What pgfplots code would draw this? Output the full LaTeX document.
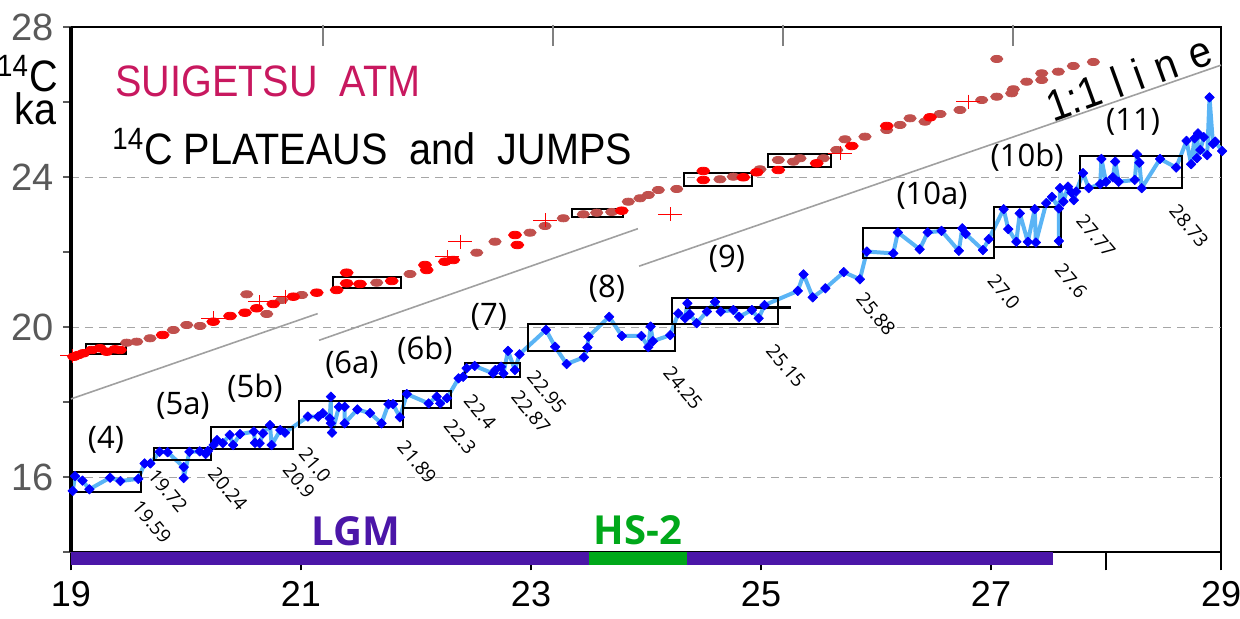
\documentclass[border=0pt]{standalone}
\usepackage{fontspec}
\setmainfont{Liberation Sans}
\newfontfamily\arialn[FakeStretch=0.9]{Liberation Sans}
\newfontfamily\seg{Open Sans}
\usepackage{pgfplots}
\pgfplotsset{compat=1.18}
\definecolor{dullred}{RGB}{192,80,77}
\definecolor{lgm}{RGB}{75,22,168}
\definecolor{hsgreen}{RGB}{0,168,26}
\definecolor{suig}{RGB}{200,24,95}
\definecolor{lblue}{RGB}{90,180,245}
\definecolor{tickgray}{RGB}{89,89,89}
\definecolor{gridgray}{RGB}{166,166,166}
\definecolor{linegray}{RGB}{160,160,160}
\begin{document}
\begin{tikzpicture}
\useasboundingbox (0,0) rectangle (620pt,309.5pt);
\begin{axis}[
 at={(35.5pt,33.35pt)}, anchor=south west,
 scale only axis, width=575pt, height=262.5pt,
 xmin=19, xmax=29, ymin=14, ymax=28,
 clip=false,
 axis line style={line width=1pt},
 xtick={19,21,23,25,27,28,29}, xticklabels={19,21,23,25,27,,29},
 xtick pos=bottom, tick align=outside,
 major tick length=9pt,
 xtick style={black, line width=1pt},
 ytick={14,16,...,28}, yticklabels={,16,,20,,24,,28},
 ytick pos=left, ytick style={draw=none},
 xticklabel style={font=\fontsize{18}{18}\selectfont, text=black, yshift=-2pt},
 yticklabel style={font=\fontsize{19}{19}\selectfont, text=tickgray, xshift=4pt},
 /pgf/number format/assume math mode=true,
]
% grid
\pgfplotsinvokeforeach{16,20,24}{\draw[gridgray, line width=0.6pt, dash pattern=on 4pt off 3pt] (axis cs:19,#1) -- (axis cs:29,#1);}
% y ticks
\pgfplotsinvokeforeach{14,16,18,20,22,24,26,28}{\draw[tickgray, line width=0.8pt] (axis cs:19,#1) -- ([xshift=-4pt]axis cs:19,#1);}
% top ticks
\pgfplotsinvokeforeach{21.19,23.19,25.19,27.19}{\draw[gray, line width=0.8pt] ([yshift=1.2pt]axis cs:#1,28) -- ([yshift=-9.5pt]axis cs:#1,28);}
\draw[line width=1.6pt] (axis cs:19,14) -- (axis cs:19,28);

% 1:1 line segments
\addplot[linegray, line width=0.8pt, forget plot] coordinates {(19,18.09) (21.145,20.365)};
\addplot[linegray, line width=0.8pt, forget plot] coordinates {(21.157,19.653) (23.93,22.63)};
\addplot[linegray, line width=0.8pt, forget plot] coordinates {(23.94,21.63) (29,26.99)};

% Suigetsu dull red
\addplot[only marks, mark=*, mark size=1.8pt, mark options={draw=dullred, fill=dullred, xscale=1.7}] coordinates {
(19.484,19.589) (19.571,19.616) (19.687,19.707) (19.890,19.928) (20.006,20.061) (20.122,20.035)
(20.528,20.880) (20.702,20.355) (20.832,20.728) (21.006,20.861) (21.658,21.189) (21.948,21.421)
(22.528,21.989) (22.687,22.283) (22.991,22.523) (23.122,22.701) (23.281,22.907) (23.455,23.013)
(23.571,23.056) (23.702,23.075) (23.846,23.349) (23.948,23.440) (24.020,23.528) (24.107,23.661)
(24.267,23.688) (24.643,23.947) (24.759,24.016) (24.991,24.213) (25.150,24.461) (25.281,24.416)
(25.339,24.507) (25.542,24.507) (25.658,24.728) (25.730,25.013) (25.904,25.083) (26.093,25.261)
(26.209,25.395) (26.296,25.573) (26.426,25.483) (26.557,25.688) (26.730,25.795) (26.919,26.061)
(27.050,26.149) (27.180,26.240) (27.194,26.347) (27.310,26.549) (27.441,26.595) (27.441,26.773)
(27.585,26.816) (27.716,26.968) (27.890,27.075) (27.050,27.155)
};
% Suigetsu bright red
\addplot[only marks, mark=*, mark size=1.9pt, mark options={draw=red, fill=red, xscale=1.7}] coordinates {
(19.026,19.216) (19.063,19.261) (19.107,19.307) (19.180,19.395) (19.252,19.440) (19.310,19.349)
(19.383,19.413) (19.426,19.395) (19.797,19.795) (20.237,20.149) (20.383,20.301) (20.513,20.389)
(20.615,20.507) (20.759,20.621) (20.933,20.816) (21.137,20.923) (21.310,20.995) (21.397,21.456)
(21.397,21.173) (21.513,21.155) (21.789,21.235) (22.078,21.661) (22.093,21.528) (22.252,21.749)
(22.324,21.795) (22.861,22.461) (22.881,22.195) (23.789,23.109) (24.498,24.168) (24.498,23.928)
(24.846,24.000) (24.963,24.133) (25.150,24.195) (25.484,24.373) (25.789,24.835) (26.093,25.368)
(26.470,25.600)
};
% crosses
\addplot[only marks, mark=+, mark size=3.5pt, mark options={draw=red, xscale=1.7, line width=0.5pt}] coordinates {
(19.009,19.235) (20.237,20.240) (20.643,20.675) (20.861,20.816) (22.270,21.875) (22.383,22.283)
(23.122,22.861) (24.209,23.021) (25.687,24.640) (26.803,26.016)
};

% blue series
\addplot[lblue, line width=2pt, line join=round, mark=square*, mark size=1.7pt, mark options={draw=blue, fill=blue, line width=0.3pt, rotate=45}] coordinates {
(19.015,15.64) (19.035,16.03) (19.10,15.91) (19.16,15.68) (19.34,15.99) (19.43,15.90) (19.585,15.96)
(19.64,16.37) (19.69,16.37) (19.77,16.68) (19.84,16.67) (19.98,16.27) (19.98,15.98) (20.03,16.68)
(20.12,16.69) (20.17,16.62) (20.19,16.70) (20.24,16.86) (20.27,16.99) (20.32,16.91) (20.38,17.13)
(20.41,16.86) (20.47,17.15) (20.59,17.22) (20.60,16.92) (20.64,16.91) (20.67,17.17) (20.73,17.39)
(20.745,16.86) (20.82,17.26) (20.86,17.19) (21.06,17.62) (21.15,17.62) (21.19,17.71) (21.25,17.57)
(21.26,18.15) (21.26,17.44) (21.27,17.19) (21.33,17.88) (21.38,17.88) (21.38,17.44) (21.49,17.81)
(21.60,17.71) (21.70,17.44) (21.76,17.95) (21.80,17.95) (21.86,17.60) (21.92,18.22) (22.11,17.97)
(22.18,18.15) (22.21,17.97) (22.27,18.11) (22.37,18.64) (22.41,18.68) (22.44,18.91) (22.51,18.97)
(22.67,18.77) (22.69,18.86) (22.74,18.95) (22.76,18.77) (22.80,19.37) (22.86,18.86) (22.90,19.28)
(23.13,19.93) (23.21,19.48) (23.31,19.02) (23.46,19.20) (23.49,19.46) (23.50,19.75) (23.68,20.28)
(23.79,19.77) (23.96,19.77) (24.02,19.47) (24.04,20.02) (24.06,19.63) (24.21,19.79) (24.28,20.37)
(24.34,20.24) (24.36,20.64) (24.38,20.35) (24.44,20.11) (24.53,20.42) (24.60,20.68) (24.65,20.42)
(24.76,20.46) (24.81,20.28) (24.92,20.46) (24.98,20.24) (25.03,20.59) (25.32,20.97) (25.37,21.41)
(25.45,20.80) (25.56,21.04) (25.72,21.47) (25.86,21.28) (25.92,22.02) (26.15,21.97) (26.19,22.53)
(26.38,22.08) (26.45,22.53) (26.57,22.57) (26.72,22.04) (26.75,22.64) (26.78,22.49) (26.93,22.06)
(26.98,22.35) (27.11,23.15) (27.15,22.62) (27.22,22.28) (27.25,23.04) (27.32,22.28) (27.38,23.15)
(27.39,22.26) (27.48,23.31) (27.53,23.48) (27.59,23.17) (27.59,22.30) (27.60,23.71) (27.63,23.35)
(27.67,23.75) (27.70,23.59) (27.72,23.39) (27.74,23.62) (27.80,24.11) (27.85,23.71) (27.95,23.82)
(27.96,24.49) (28.00,23.88) (28.06,24.00) (28.08,24.42) (28.11,23.88) (28.25,23.93) (28.27,24.61)
(28.29,24.39) (28.31,23.71) (28.47,24.49) (28.61,24.26) (28.70,24.97) (28.74,24.35) (28.77,25.04)
(28.79,24.51) (28.80,25.17) (28.85,25.07) (28.82,24.73) (28.88,24.59) (28.90,26.13) (28.93,24.89)
(28.95,24.95) (29.01,24.70)
};

% plateau boxes
\begin{scope}[black, line width=1pt]
\draw (axis cs:19.006,15.62) rectangle (axis cs:19.609,16.15);
\draw (axis cs:19.72,16.46) rectangle (axis cs:20.22,16.77);
\draw (axis cs:20.22,16.75) rectangle (axis cs:20.93,17.33);
\draw (axis cs:20.985,17.35) rectangle (axis cs:21.89,18.03);
\draw (axis cs:21.89,17.84) rectangle (axis cs:22.30,18.30);
\draw (axis cs:22.43,18.68) rectangle (axis cs:22.90,19.04);
\draw (axis cs:22.97,19.38) rectangle (axis cs:24.25,20.08);
\draw (axis cs:24.23,20.09) rectangle (axis cs:25.15,20.79);
\draw (axis cs:25.89,21.84) rectangle (axis cs:27.03,22.66);
\draw (axis cs:27.03,22.15) rectangle (axis cs:27.61,23.22);
\draw (axis cs:27.77,23.71) rectangle (axis cs:28.66,24.58);
\draw (axis cs:19.13,19.28) rectangle (axis cs:19.48,19.55);
\draw (axis cs:21.275,21.06) rectangle (axis cs:21.87,21.33);
\draw (axis cs:23.36,22.93) rectangle (axis cs:23.80,23.15);
\draw (axis cs:24.33,23.78) rectangle (axis cs:24.92,24.12);
\draw (axis cs:25.06,24.27) rectangle (axis cs:25.61,24.61);
\draw[line width=1.5pt] (axis cs:24.34,20.54) -- (axis cs:25.26,20.54);
\end{scope}

% bars
\addplot[lgm, line width=6.5pt, forget plot] coordinates {(19,13.83) (27.54,13.83)};
\addplot[hsgreen, line width=6.5pt, forget plot] coordinates {(23.5,13.83) (24.36,13.83)};
\node[text=lgm, font=\seg\bfseries\fontsize{20}{20}\selectfont] at (axis cs:21.478,14.568) {LGM};
\node[text=hsgreen, font=\seg\bfseries\fontsize{20}{20}\selectfont] at (axis cs:23.93,14.595) {HS-2};

% plateau labels
\begin{scope}[font=\seg\fontsize{15.5}{15.5}\selectfont]
\node at (axis cs:19.304,16.995) {(4)};
\node at (axis cs:19.974,17.90) {(5a)};
\node at (axis cs:20.60,18.38) {(5b)};
\node at (axis cs:21.443,18.995) {(6a)};
\node at (axis cs:22.078,19.395) {(6b)};
\node at (axis cs:22.635,20.275) {(7)};
\node at (axis cs:23.661,21.021) {(8)};
\node at (axis cs:24.704,21.821) {(9)};
\node at (axis cs:26.487,23.501) {(10a)};
\node at (axis cs:27.313,24.541) {(10b)};
\node at (axis cs:28.235,25.475) {(11)};
\end{scope}

% jump ages
\begin{scope}[font=\seg\fontsize{9.5}{9.5}\selectfont, every node/.append style={inner sep=0pt, rotate=-50}]
\node at (axis cs:19.704,14.808) {19.59};
\node at (axis cs:19.843,15.635) {19.72};
\node at (axis cs:20.365,15.688) {20.24};
\node at (axis cs:20.983,15.901) {20.9};
\node at (axis cs:21.122,16.328) {21.0};
\node at (axis cs:22.009,16.408) {21.89};
\node at (axis cs:22.383,17.075) {22.3};
\node at (axis cs:22.557,17.741) {22.4};
\node at (axis cs:23.0,17.741) {22.87};
\node at (axis cs:23.139,18.275) {22.95};
\node at (axis cs:24.322,18.381) {24.25};
\node at (axis cs:25.217,18.968) {25.15};
\node at (axis cs:26.0,20.355) {25.88};
\node at (axis cs:27.113,20.941) {27.0};
\node at (axis cs:27.696,21.235) {27.6};
\node at (axis cs:27.913,22.435) {27.77};
\node at (axis cs:28.722,22.701) {28.73};
\end{scope}

% titles
\node[anchor=base west, inner sep=0pt, text=suig, font=\arialn\fontsize{22}{22}\selectfont] at (axis cs:19.383,26.141) {SUIGETSU\ \ ATM};
\node[anchor=base west, inner sep=0pt, font=\arialn\fontsize{22}{22}\selectfont] at (axis cs:19.357,24.328) {\textsuperscript{14}C PLATEAUS\ \ and\ \ JUMPS};
\node[rotate=20, inner sep=0pt, font=\arialn\fontsize{22}{22}\selectfont] at (axis cs:28.2,26.65) {1:1\hspace{7pt}l\hspace{7pt}i\hspace{7pt}n\hspace{7pt}e};
% y label
\node[anchor=base east, inner sep=0pt, font=\arialn\fontsize{22}{22}\selectfont] at (axis cs:18.887,26.275) {\textsuperscript{14}C};
\node[anchor=base east, inner sep=0pt, font=\arialn\fontsize{22}{22}\selectfont] at (axis cs:18.878,25.395) {ka};
\end{axis}
\end{tikzpicture}
\end{document}
